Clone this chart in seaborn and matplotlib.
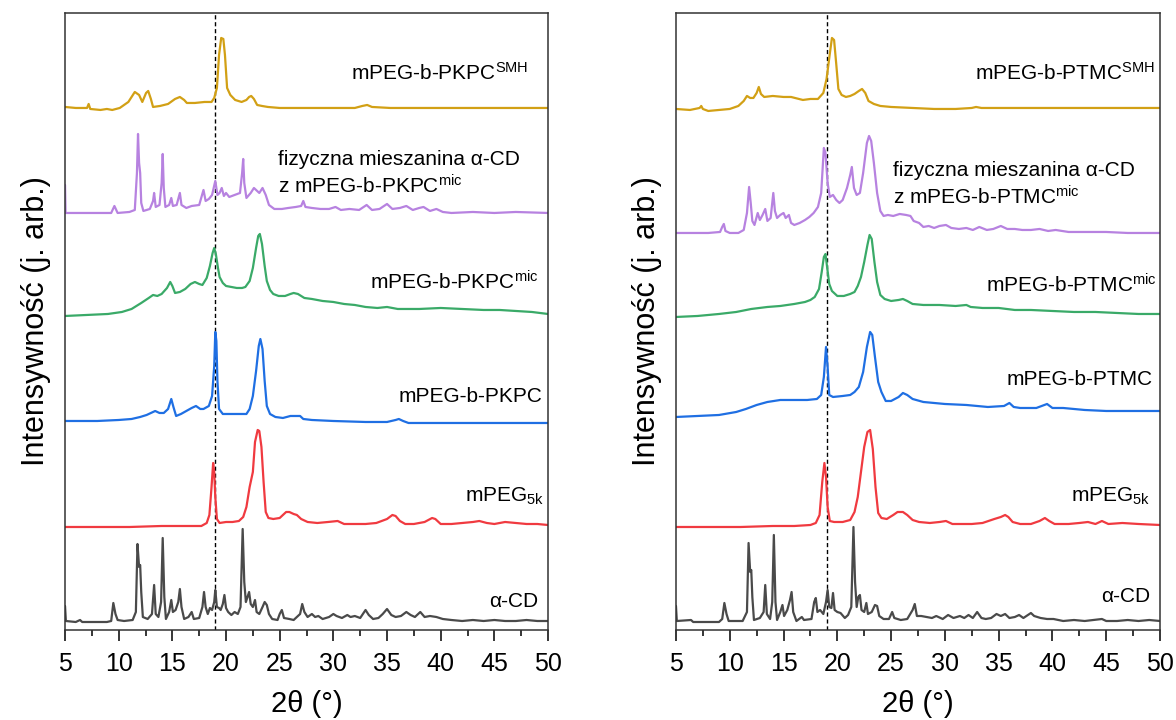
import seaborn as sns
import pandas as pd
from matplotlib import pyplot as plt
from matplotlib.ticker import MultipleLocator

# XRD traces: (2theta in deg, intensity above own baseline, arb. units)

# --- left panel: PKPC series ---
pkpc_acd = [(5.0, 16), (5.08, 1), (6.0, 0), (6.4, 2), (6.6, 0), (8.9, 0), (9.3, 1), (9.5, 19), (9.7, 8), (9.9, 2),
            (10.5, 1), (11.3, 2), (11.6, 10), (11.75, 78), (11.9, 55), (12.0, 57), (12.1, 30), (12.25, 5), (12.7, 3),
            (13.1, 8), (13.3, 37), (13.45, 8), (13.7, 5), (13.95, 20), (14.1, 84), (14.25, 25), (14.4, 3), (14.7, 10),
            (14.9, 22), (15.05, 10), (15.3, 12), (15.55, 20), (15.7, 33), (15.85, 15), (16.1, 3), (16.5, 5), (16.8, 10),
            (17.0, 3), (17.5, 4), (17.8, 15), (17.95, 30), (18.1, 15), (18.3, 8), (18.5, 14), (18.7, 12), (18.9, 20),
            (19.0, 32), (19.15, 15), (19.35, 14), (19.5, 12), (19.7, 18), (19.85, 27), (20.0, 14), (20.2, 10),
            (20.5, 7), (20.8, 10), (21.1, 8), (21.35, 15), (21.55, 93), (21.7, 40), (21.85, 20), (22.0, 25),
            (22.15, 30), (22.3, 18), (22.5, 15), (22.7, 22), (22.85, 10), (23.1, 8), (23.4, 15), (23.6, 20),
            (23.8, 17), (24.0, 8), (24.3, 3), (24.8, 2), (25.0, 8), (25.2, 12), (25.4, 4), (25.9, 3), (26.3, 2),
            (26.9, 8), (27.1, 18), (27.3, 10), (27.6, 5), (28.0, 8), (28.3, 5), (28.6, 6), (29.0, 3), (29.6, 5),
            (30.0, 8), (30.3, 6), (30.8, 4), (31.3, 7), (31.6, 5), (32.0, 6), (32.5, 4), (33.0, 12), (33.3, 7),
            (33.7, 3), (34.2, 4), (34.6, 8), (35.0, 13), (35.4, 7), (35.8, 5), (36.3, 6), (36.8, 10), (37.2, 7),
            (37.6, 5), (38.1, 10), (38.5, 5), (39.0, 6), (39.6, 5), (40.2, 3), (41.0, 2), (42.0, 1), (43.0, 2),
            (44.0, 1), (45.0, 2), (46.0, 1), (47.0, 1), (48.0, 2), (49.0, 1), (50.0, 1)]

pkpc_peg = [(5.0, 0), (8.0, 0), (11.0, 0), (14.0, 1), (16.0, 1), (17.7, 1), (18.2, 4), (18.45, 12), (18.65, 40),
            (18.8, 64), (18.9, 55), (19.0, 30), (19.15, 8), (19.4, 4), (20.0, 5), (20.6, 5), (21.2, 6), (21.6, 10),
            (21.9, 20), (22.2, 40), (22.5, 55), (22.7, 85), (22.95, 97), (23.1, 96), (23.3, 80), (23.5, 45),
            (23.7, 15), (23.95, 9), (24.4, 8), (25.0, 9), (25.6, 15), (25.9, 15), (26.3, 13), (26.6, 12), (27.0, 8),
            (27.6, 5), (28.5, 4), (29.5, 5), (30.4, 6), (31.0, 3), (32.0, 3), (33.0, 3), (34.0, 4), (35.0, 8),
            (35.5, 12), (35.8, 11), (36.2, 6), (36.7, 3), (37.5, 3), (38.5, 5), (39.2, 9), (39.5, 8), (40.0, 3),
            (41.0, 3), (42.0, 4), (43.0, 5), (43.6, 6), (44.3, 4), (45.0, 3), (46.0, 5), (47.0, 4), (48.0, 3),
            (49.0, 3), (50.0, 2)]

pkpc_plain = [(5.0, 0), (8.0, 0), (10.0, 1), (11.2, 2), (12.0, 4), (12.6, 6), (13.0, 8), (13.4, 10), (13.8, 8),
              (14.2, 8), (14.6, 12), (14.9, 22), (15.1, 14), (15.35, 5), (15.8, 7), (16.3, 10), (16.8, 13),
              (17.2, 15), (17.6, 12), (17.9, 12), (18.4, 15), (18.7, 25), (18.9, 55), (19.0, 89), (19.1, 80),
              (19.2, 40), (19.35, 12), (19.7, 7), (20.5, 7), (21.3, 7), (21.9, 7), (22.2, 12), (22.5, 25),
              (22.8, 50), (23.05, 75), (23.2, 82), (23.4, 72), (23.6, 40), (23.8, 15), (24.1, 7), (24.6, 4),
              (25.3, 3), (26.0, 5), (26.4, 5), (26.9, 5), (27.2, 2), (28.0, 1), (30.0, 0), (33.0, -1), (35.0, -1),
              (35.8, 1), (36.1, 2), (36.5, 0), (37.0, -2), (40.0, -2), (45.0, -2), (50.0, -2)]

pkpc_mic = [(5.0, 0), (7.0, 1), (9.0, 2), (10.3, 4), (11.2, 7), (12.1, 13), (12.8, 18), (13.2, 21), (13.6, 20),
            (14.0, 22), (14.5, 28), (14.8, 34), (15.0, 30), (15.25, 23), (15.7, 24), (16.2, 27), (16.7, 32),
            (17.1, 34), (17.5, 32), (17.8, 31), (18.2, 38), (18.5, 50), (18.75, 63), (18.9, 68), (19.05, 62),
            (19.25, 48), (19.4, 39), (19.7, 33), (20.0, 30), (20.5, 29), (21.0, 28), (21.5, 28), (21.8, 29),
            (22.2, 35), (22.5, 48), (22.8, 68), (23.0, 80), (23.15, 82), (23.35, 72), (23.6, 50), (23.8, 35),
            (24.1, 26), (24.4, 22), (24.9, 20), (25.5, 20), (26.0, 22), (26.3, 23), (26.7, 22), (27.3, 18),
            (28.0, 17), (29.0, 15), (30.0, 14), (31.0, 12), (32.0, 11), (33.0, 9), (34.1, 8), (35.0, 9), (36.0, 7),
            (37.0, 7), (38.0, 7), (40.0, 8), (42.0, 7), (44.0, 6), (45.5, 6), (47.0, 5), (48.5, 4), (50.0, 2)]

pkpc_mix = [(5.0, 28), (5.05, 0), (6.0, 0), (8.0, 0), (9.3, 0), (9.6, 7), (9.9, 0), (11.0, 1), (11.5, 3), (11.7, 40),
            (11.8, 79), (11.9, 50), (12.0, 40), (12.1, 10), (12.3, 2), (12.9, 4), (13.2, 12), (13.3, 20),
            (13.45, 6), (13.8, 8), (14.0, 30), (14.1, 59), (14.2, 25), (14.35, 6), (14.7, 8), (14.9, 15),
            (15.05, 7), (15.4, 8), (15.7, 20), (15.85, 8), (16.3, 5), (16.8, 7), (17.5, 8), (17.9, 23), (18.1, 12),
            (18.4, 14), (18.7, 18), (19.0, 32), (19.2, 18), (19.4, 20), (19.6, 25), (19.8, 17), (20.0, 20),
            (20.3, 16), (20.8, 18), (21.3, 20), (21.5, 40), (21.6, 54), (21.7, 30), (21.9, 15), (22.3, 20),
            (22.6, 25), (22.9, 22), (23.1, 20), (23.4, 25), (23.7, 18), (24.0, 8), (24.5, 4), (25.2, 4), (25.8, 5),
            (26.5, 6), (27.0, 7), (27.2, 12), (27.4, 6), (28.0, 5), (28.8, 4), (29.6, 4), (30.2, 6), (30.7, 3),
            (31.5, 4), (32.4, 3), (33.1, 8), (33.6, 3), (34.3, 4), (35.0, 9), (35.5, 4), (36.2, 5), (36.8, 7),
            (37.4, 3), (38.0, 5), (38.4, 6), (39.0, 2), (39.6, 4), (40.2, 1), (41.0, 0), (43.0, 1), (45.0, 0),
            (47.0, 1), (50.0, 0)]

pkpc_smh = [(5.0, 1), (6.0, 0), (7.05, 0), (7.2, 4), (7.35, -1), (8.3, -2), (8.9, -1), (9.4, -2), (10.1, 0),
            (10.9, 6), (11.5, 16), (11.9, 13), (12.2, 6), (12.55, 15), (12.75, 17), (13.0, 9), (13.2, 1),
            (13.85, 2), (14.6, 4), (15.25, 9), (15.7, 11), (16.1, 8), (16.35, 5), (17.1, 5), (18.0, 6), (18.65, 6),
            (18.9, 10), (19.15, 20), (19.35, 53), (19.55, 70), (19.75, 69), (19.9, 53), (20.1, 20), (20.4, 13),
            (20.85, 8), (21.45, 6), (21.9, 8), (22.15, 11), (22.35, 12), (22.6, 9), (22.9, 3), (23.35, 2),
            (23.9, 1), (25.0, 0), (26.9, 0), (29.7, 0), (32.0, 0), (32.7, 2), (33.15, 3), (33.6, 1), (35.3, 0),
            (38.1, 0), (40.9, 0), (43.7, 0), (46.5, 0), (50.0, 0)]

# --- right panel: PTMC series ---
ptmc_acd = [(5.0, 16), (5.08, 1), (6.4, 2), (6.6, 0), (9.0, 0), (9.3, 3), (9.5, 19), (9.7, 8), (9.9, 1), (11.2, 1),
            (11.6, 10), (11.75, 79), (11.9, 50), (12.0, 52), (12.1, 25), (12.25, 2), (12.8, 4), (13.15, 10),
            (13.3, 37), (13.45, 8), (13.75, 3), (13.95, 20), (14.1, 87), (14.25, 20), (14.4, 2), (14.7, 10),
            (14.9, 17), (15.05, 6), (15.35, 12), (15.6, 22), (15.75, 30), (15.9, 10), (16.2, 1), (16.7, 5),
            (16.9, 2), (17.6, 3), (17.85, 20), (18.0, 24), (18.15, 10), (18.4, 12), (18.7, 8), (18.95, 20),
            (19.1, 32), (19.25, 15), (19.45, 14), (19.6, 29), (19.75, 12), (20.0, 10), (20.3, 9), (20.7, 4),
            (21.0, 7), (21.3, 15), (21.5, 95), (21.65, 40), (21.8, 15), (21.95, 25), (22.1, 27), (22.25, 12),
            (22.5, 10), (22.7, 19), (22.85, 8), (23.2, 10), (23.5, 17), (23.7, 16), (23.9, 6), (24.3, 3), (24.8, 3),
            (25.1, 10), (25.3, 4), (25.9, 2), (26.5, 3), (27.0, 12), (27.2, 18), (27.4, 6), (27.8, 6), (28.3, 5),
            (28.8, 4), (29.2, 6), (29.8, 3), (30.3, 7), (30.8, 4), (31.4, 6), (31.8, 4), (32.2, 7), (32.6, 4),
            (33.0, 10), (33.4, 4), (33.8, 3), (34.3, 4), (34.8, 8), (35.2, 6), (35.6, 8), (36.0, 4), (36.5, 5),
            (36.9, 7), (37.3, 4), (38.0, 9), (38.3, 6), (38.9, 4), (39.5, 3), (40.1, 3), (41.0, 1), (42.0, 2),
            (43.0, 1), (44.6, 3), (45.0, 1), (46.0, 1), (47.0, 2), (48.0, 1), (49.0, 2), (50.0, 1)]

ptmc_peg = [(5.0, 0), (8.0, 0), (11.0, 0), (14.0, 1), (16.0, 1), (17.5, 2), (18.0, 4), (18.35, 12), (18.6, 45),
            (18.8, 64), (18.95, 50), (19.1, 20), (19.3, 6), (19.7, 5), (20.5, 5), (21.2, 7), (21.6, 15), (21.9, 30),
            (22.2, 55), (22.5, 80), (22.8, 95), (23.05, 97), (23.3, 78), (23.55, 40), (23.8, 14), (24.1, 9),
            (24.6, 8), (25.2, 12), (25.6, 15), (26.1, 15), (26.5, 12), (27.0, 7), (27.6, 5), (28.6, 4), (29.5, 5),
            (30.1, 6), (30.7, 3), (31.5, 3), (32.5, 3), (33.5, 4), (34.6, 8), (35.2, 10), (35.6, 12), (35.9, 10),
            (36.3, 5), (37.0, 3), (38.0, 3), (38.8, 6), (39.3, 9), (39.7, 6), (40.2, 3), (41.5, 3), (42.5, 4),
            (43.3, 5), (44.0, 3), (44.6, 6), (45.2, 3), (46.5, 4), (48.0, 3), (50.0, 2)]

ptmc_plain = [(5.0, 0), (7.0, 1), (9.0, 2), (10.6, 5), (11.5, 8), (12.5, 12), (13.5, 15), (14.7, 17), (16.0, 17),
              (17.2, 17), (18.1, 18), (18.5, 22), (18.75, 40), (18.95, 70), (19.1, 50), (19.25, 22), (19.6, 20),
              (20.5, 21), (21.2, 22), (21.6, 25), (22.0, 30), (22.4, 45), (22.75, 70), (23.05, 85), (23.25, 82),
              (23.5, 60), (23.8, 35), (24.1, 25), (24.5, 16), (25.0, 16), (25.7, 20), (26.1, 24), (26.5, 22),
              (27.0, 18), (28.0, 15), (30.0, 13), (32.0, 12), (34.0, 10), (35.5, 11), (36.0, 14), (36.4, 10),
              (37.0, 9), (38.5, 9), (39.5, 13), (40.0, 9), (41.0, 9), (43.0, 7), (45.0, 6), (47.0, 6), (50.0, 6)]

ptmc_mic = [(5.0, 0), (7.0, 1), (9.0, 3), (10.6, 5), (12.0, 8), (13.5, 10), (14.7, 11), (16.0, 13), (17.0, 15),
            (17.5, 17), (17.9, 20), (18.3, 28), (18.55, 45), (18.75, 60), (18.9, 63), (19.05, 50), (19.25, 33),
            (19.5, 26), (20.0, 21), (20.6, 21), (21.2, 23), (21.6, 25), (21.9, 31), (22.2, 40), (22.5, 55),
            (22.8, 72), (23.0, 82), (23.2, 78), (23.45, 55), (23.7, 35), (24.0, 22), (24.4, 18), (25.0, 16),
            (25.7, 17), (26.1, 18), (26.5, 16), (27.0, 13), (28.0, 12), (29.5, 12), (31.0, 11), (32.0, 12),
            (32.4, 10), (33.5, 9), (35.0, 9), (36.5, 7), (38.0, 7), (40.0, 6), (42.0, 5), (44.0, 5), (46.0, 4),
            (48.0, 3), (50.0, 3)]

ptmc_mix = [(5.0, 0), (6.0, 0), (8.0, 0), (9.1, 1), (9.3, 6), (9.45, 9), (9.6, 2), (10.0, 0), (10.8, 0), (11.3, 3),
            (11.6, 20), (11.8, 46), (11.95, 30), (12.1, 12), (12.3, 8), (12.6, 20), (12.8, 13), (13.05, 18),
            (13.3, 24), (13.5, 12), (13.8, 15), (14.05, 40), (14.2, 22), (14.4, 15), (14.7, 18), (15.0, 20),
            (15.2, 15), (15.5, 18), (15.7, 10), (16.0, 8), (16.5, 10), (17.0, 13), (17.4, 16), (17.8, 20),
            (18.2, 26), (18.5, 40), (18.75, 85), (18.9, 80), (19.1, 50), (19.3, 36), (19.6, 38), (19.9, 33),
            (20.2, 30), (20.5, 33), (20.9, 45), (21.2, 58), (21.35, 66), (21.55, 45), (21.8, 38), (22.1, 40),
            (22.4, 60), (22.75, 90), (22.95, 97), (23.15, 92), (23.4, 70), (23.7, 40), (24.0, 22), (24.3, 17),
            (24.7, 18), (25.2, 17), (25.8, 19), (26.4, 18), (26.8, 17), (27.1, 12), (27.6, 10), (28.0, 6),
            (28.5, 7), (29.0, 5), (29.5, 7), (30.1, 8), (30.6, 5), (31.3, 4), (32.0, 5), (32.6, 3), (33.2, 6),
            (33.9, 3), (34.5, 4), (35.2, 7), (35.8, 4), (36.5, 4), (37.2, 3), (38.0, 3), (38.8, 4), (39.6, 2),
            (40.3, 3), (41.5, 1), (43.0, 1), (45.0, 1), (47.0, 0), (50.0, 0)]

ptmc_smh = [(5.0, 0), (6.3, -1), (7.2, 1), (7.35, 3), (7.5, 0), (8.0, -2), (9.0, -1), (10.0, 0), (10.8, 3),
            (11.3, 8), (11.6, 13), (11.9, 11), (12.2, 11), (12.5, 16), (12.7, 22), (12.9, 15), (13.2, 12),
            (14.0, 13), (15.0, 12), (15.7, 12), (16.8, 9), (17.5, 10), (18.2, 10), (18.7, 16), (19.0, 30),
            (19.3, 55), (19.5, 71), (19.7, 69), (19.9, 45), (20.1, 20), (20.4, 14), (20.8, 12), (21.2, 13),
            (21.6, 15), (22.0, 18), (22.3, 20), (22.6, 16), (22.9, 8), (23.4, 5), (24.0, 3), (25.0, 2), (27.0, 1),
            (29.0, 0), (31.0, 0), (32.5, 1), (32.9, 2), (33.4, 1), (35.0, 1), (38.0, 1), (41.0, 1), (44.0, 1),
            (47.0, 1), (50.0, 1)]

samples = ["acd", "peg5k", "plain", "mic", "mix", "smh"]
offsets_pkpc = [8, 103, 209, 314, 417, 522]
offsets_ptmc = [8, 103, 213, 313, 397, 521]
colors = ["#4a4a4a", "#f03a40", "#1f6fe3", "#3aaa68", "#b782e0", "#d2a015"]

labels_pkpc = ["α-CD", "mPEG$_{5k}$", "mPEG-b-PKPC", "mPEG-b-PKPC$^{mic}$",
               "fizyczna mieszanina α-CD\nz mPEG-b-PKPC$^{mic}$", "mPEG-b-PKPC$^{SMH}$"]
labels_ptmc = ["α-CD", "mPEG$_{5k}$", "mPEG-b-PTMC", "mPEG-b-PTMC$^{mic}$",
               "fizyczna mieszanina α-CD\nz mPEG-b-PTMC$^{mic}$", "mPEG-b-PTMC$^{SMH}$"]


def build(traces, offsets):
    frames = []
    for name, pts, off in zip(samples, traces, offsets):
        d = pd.DataFrame(pts, columns=["two_theta", "intensity"])
        d["intensity"] = d["intensity"] + off
        d["sample"] = name
        frames.append(d)
    return pd.concat(frames, ignore_index=True)


df_pkpc = build([pkpc_acd, pkpc_peg, pkpc_plain, pkpc_mic, pkpc_mix, pkpc_smh], offsets_pkpc)
df_ptmc = build([ptmc_acd, ptmc_peg, ptmc_plain, ptmc_mic, ptmc_mix, ptmc_smh], offsets_ptmc)

sns.set_theme(style="ticks")
plt.rcParams["font.family"] = ["Liberation Sans", "DejaVu Sans"]
plt.rcParams["mathtext.fontset"] = "custom"
plt.rcParams["mathtext.rm"] = "Liberation Sans"
plt.rcParams["mathtext.default"] = "regular"
plt.rcParams["text.color"] = "black"
plt.rcParams["axes.labelcolor"] = "black"
plt.rcParams["xtick.color"] = "black"
plt.rcParams["xtick.labelcolor"] = "black"

fig = plt.figure(figsize=(11.76, 7.2), dpi=100)
ax1 = fig.add_axes([0.0553, 0.125, 0.4107, 0.857])
ax2 = fig.add_axes([0.5748, 0.125, 0.4116, 0.857])

# label placement: (x, y, ha) per trace
label_pos_pkpc = [(49.1, 28, "right"), (49.6, 134, "right"), (49.45, 233, "right"),
                  (49.1, 348, "right"), (24.85, 456, "left"), (48.15, 557, "right")]
label_pos_ptmc = [(49.05, 33, "right"), (49.05, 134, "right"), (49.3, 250, "right"),
                  (49.7, 345, "right"), (25.2, 445, "left"), (49.5, 557, "right")]

for ax, df, labels, pos in [(ax1, df_pkpc, labels_pkpc, label_pos_pkpc),
                            (ax2, df_ptmc, labels_ptmc, label_pos_ptmc)]:
    sns.lineplot(data=df, x="two_theta", y="intensity", hue="sample",
                 palette=dict(zip(samples, colors)), estimator=None, sort=False,
                 legend=False, linewidth=1.6, ax=ax)
    ax.axvline(19, color="black", linestyle=(0, (3, 2)), linewidth=1.0, zorder=0)
    for text, (tx, ty, ha) in zip(labels, pos):
        ax.text(tx, ty, text, ha=ha, va="center", fontsize=15, color="black", linespacing=1.3)
    ax.set_xlim(5, 50)
    ax.set_ylim(0, 617)
    ax.xaxis.set_major_locator(MultipleLocator(5))
    ax.xaxis.set_minor_locator(MultipleLocator(2.5))
    ax.tick_params(axis="x", which="major", direction="out", length=8, width=1.1,
                   labelsize=18, color="black", labelcolor="black", pad=8)
    ax.tick_params(axis="x", which="minor", direction="out", length=4, width=1.1, color="black")
    ax.set_yticks([])
    for s in ax.spines.values():
        s.set_visible(True)
        s.set_color("#333333")
        s.set_linewidth(1.1)
    ax.set_xlabel("2θ (°)", fontsize=21, labelpad=10, color="black")
    ax.set_ylabel("Intensywność (j. arb.)", fontsize=22, labelpad=10, color="black")

plt.savefig("out.png", dpi=100)
